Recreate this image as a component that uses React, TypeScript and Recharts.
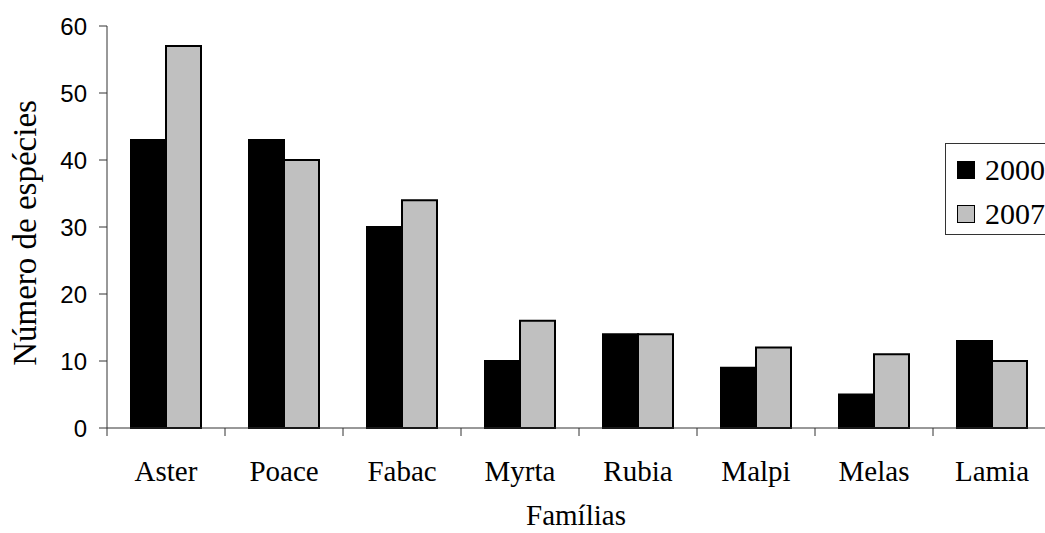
import React from "react";
import { BarChart, Bar, XAxis, YAxis, Legend } from "recharts";

const categories = ["Aster", "Poace", "Fabac", "Myrta", "Rubia", "Malpi", "Melas", "Lamia"];
const series2000 = [43, 43, 30, 10, 14, 9, 5, 13];
const series2007 = [57, 40, 34, 16, 14, 12, 11, 10];
const yTicks = [0, 10, 20, 30, 40, 50, 60];
const boundaryTicks = [0, 1, 2, 3, 4, 5, 6, 7, 8];

const data = categories.map((c, i) => ({ name: c, idx: i + 0.5, y2000: series2000[i], y2007: series2007[i] }));

const SERIF = "'Liberation Serif', 'Times New Roman', serif";
const SANS = "'Liberation Sans', Arial, sans-serif";

const CatTick = (props: any) => {
  const { x, y, payload } = props;
  return (
    <text x={x} y={y + 50} textAnchor="middle" fontFamily={SERIF} fontSize={29} fill="#000">
      {payload.value}
    </text>
  );
};

const EmptyTick = () => <g />;

const XTitle = (props: any) => {
  const vb = props.viewBox || {};
  return (
    <text x={vb.x + vb.width / 2 - 3} y={525} textAnchor="middle" fontFamily={SERIF} fontSize={29} fill="#000">
      Famílias
    </text>
  );
};

const YTitle = () => (
  <text
    x={25}
    y={233}
    textAnchor="middle"
    dominantBaseline="central"
    transform="rotate(-90 25 233)"
    fontFamily={SERIF}
    fontSize={33}
    fill="#000"
  >
    Número de espécies
  </text>
);

const LegendBox = () => (
  <div
    style={{
      border: "1px solid #333",
      background: "#fff",
      width: 140,
      height: 92,
      boxSizing: "border-box",
      paddingLeft: 11,
      paddingTop: 4,
      fontFamily: SERIF,
      fontSize: 30,
      color: "#000",
      textAlign: "left",
    }}
  >
    {[
      { label: "2000", fill: "#000" },
      { label: "2007", fill: "#C0C0C0" },
    ].map((it) => (
      <div key={it.label} style={{ display: "flex", alignItems: "center", height: 44 }}>
        <span
          style={{
            display: "inline-block",
            width: 18,
            height: 18,
            background: it.fill,
            border: "1.5px solid #000",
            boxSizing: "border-box",
            marginRight: 10,
          }}
        />
        <span>{it.label}</span>
      </div>
    ))}
  </div>
);

export default function App() {
  return (
    <div style={{ position: "absolute", left: 0, top: 0, width: 1045, height: 533, overflow: "hidden", background: "#fff" }}>
      <BarChart
        width={1052}
        height={533}
        data={data}
        margin={{ top: 26, right: 1, left: 0, bottom: 0 }}
        barCategoryGap={24}
        barGap={0}
      >
        <XAxis
          xAxisId="b"
          dataKey="idx"
          type="number"
          domain={[0, 8]}
          ticks={boundaryTicks}
          interval={0}
          allowDataOverflow
          height={1}
          tick={<EmptyTick />}
          tickSize={8}
          axisLine={{ stroke: "#333", strokeWidth: 1 }}
          tickLine={{ stroke: "#333", strokeWidth: 1 }}
        />
        <XAxis
          xAxisId="cat"
          dataKey="name"
          height={104}
          axisLine={false}
          tickLine={false}
          tickSize={0}
          tick={<CatTick />}
          interval={0}
          label={<XTitle />}
        />
        <YAxis
          width={107}
          domain={[0, 60]}
          ticks={yTicks}
          interval={0}
          tickSize={8}
          tickMargin={12}
          axisLine={{ stroke: "#333", strokeWidth: 1 }}
          tickLine={{ stroke: "#333", strokeWidth: 1 }}
          tick={{ fontFamily: SANS, fontSize: 24, fill: "#000" }}
          label={<YTitle />}
        />
        <Legend
          layout="vertical"
          align="center"
          verticalAlign="middle"
          content={<LegendBox />}
          wrapperStyle={{ position: "absolute", left: 945, top: 143, width: 140, height: 92 }}
        />
        <Bar xAxisId="cat" dataKey="y2000" fill="#000" stroke="#000" strokeWidth={2} isAnimationActive={false} />
        <Bar xAxisId="cat" dataKey="y2007" fill="#C0C0C0" stroke="#000" strokeWidth={2} isAnimationActive={false} />
      </BarChart>
    </div>
  );
}
